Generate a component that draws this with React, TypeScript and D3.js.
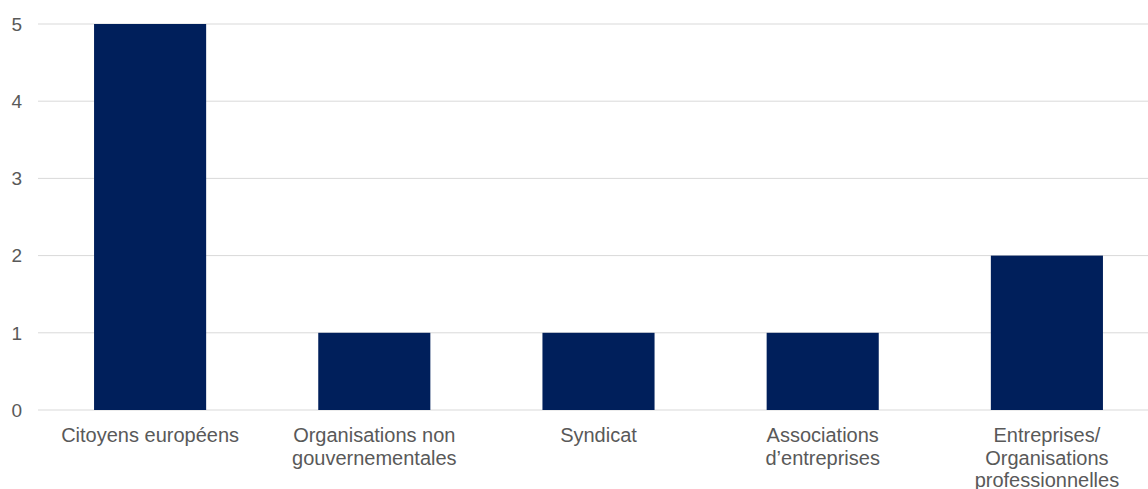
import React from "react";
import * as d3 from "d3";

const categories: string[][] = [
  ["Citoyens européens"],
  ["Organisations non", "gouvernementales"],
  ["Syndicat"],
  ["Associations", "d’entreprises"],
  ["Entreprises/", "Organisations", "professionnelles"],
];
const values: number[] = [5, 1, 1, 1, 2];
const yTicks: number[] = [0, 1, 2, 3, 4, 5];

const W = 1148;
const H = 489;

export default function App() {
  const x = d3
    .scaleBand<number>()
    .domain(values.map((_, i) => i))
    .range([38, 1159])
    .paddingInner(0.5)
    .paddingOuter(0.25);
  const y = d3.scaleLinear().domain([0, 5]).range([410, 24]);
  const font = "Liberation Sans, Arial, sans-serif";
  return (
    <svg
      width={W}
      height={H}
      style={{ position: "absolute", left: 0, top: 0, background: "#fff" }}
    >
      {yTicks.map((t) => (
        <g key={t}>
          <line
            x1={38}
            x2={W}
            y1={y(t)}
            y2={y(t)}
            stroke="#d9d9d9"
            strokeWidth={1}
          />
          <text
            x={22}
            y={y(t)}
            dy="0.36em"
            textAnchor="end"
            fontFamily={font}
            fontSize={19}
            fill="#595959"
          >
            {t}
          </text>
        </g>
      ))}
      {values.map((v, i) => (
        <rect
          key={i}
          x={x(i)}
          width={x.bandwidth()}
          y={y(v)}
          height={y(0) - y(v)}
          fill="#001f5b"
        />
      ))}
      {categories.map((lines, i) => (
        <text
          key={i}
          textAnchor="middle"
          fontFamily={font}
          fontSize={20}
          fill="#595959"
        >
          {lines.map((l, j) => (
            <tspan key={j} x={(x(i) as number) + x.bandwidth() / 2} y={442 + j * 22.5}>
              {l}
            </tspan>
          ))}
        </text>
      ))}
    </svg>
  );
}
